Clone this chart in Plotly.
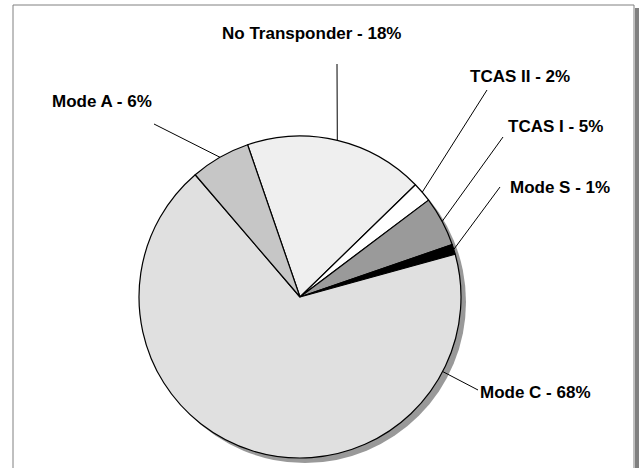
import math
import plotly.graph_objects as go

# ---- data ----
categories = ["No Transponder", "TCAS II", "TCAS I", "Mode S", "Mode C", "Mode A"]
values = [18, 2, 5, 1, 68, 6]
colors = ["#efefef", "#ffffff", "#9a9a9a", "#000000", "#e0e0e0", "#c6c6c6"]

# ---- layout (pixels) ----
W, H = 639, 468
CX, CY, R = 300, 297, 161
ROT = -19  # start angle of first slice, degrees clockwise from 12 o'clock
SHADOW = 5

# label text centres and leader-line anchor points (pixels)
label_pos = {
    "No Transponder": ((311, 34), (337, 64)),
    "TCAS II": ((520, 77), (487, 90)),
    "TCAS I": ((555, 127), (503, 137)),
    "Mode S": ((560, 187), (500, 187)),
    "Mode C": ((535, 392), (478, 390)),
    "Mode A": ((102, 101), (154, 124)),
}

def px(x):
    return x / W

def py(y):
    return 1 - y / H

fig = go.Figure()

# shadow pie
fig.add_trace(go.Pie(
    values=[1], labels=["shadow"], sort=False,
    marker=dict(colors=["#999999"], line=dict(width=0)),
    textinfo="none", hoverinfo="skip", showlegend=False,
    domain=dict(x=[px(CX - R + SHADOW), px(CX + R + SHADOW)],
                y=[py(CY + R + SHADOW), py(CY - R + SHADOW)]),
))

fig.add_trace(go.Pie(
    values=values, labels=categories, sort=False, direction="clockwise",
    rotation=ROT,
    marker=dict(colors=colors, line=dict(color="#000000", width=1.2)),
    textinfo="none", hoverinfo="skip", showlegend=False,
    domain=dict(x=[px(CX - R), px(CX + R)], y=[py(CY + R), py(CY - R)]),
))

shapes = []
annotations = []
total = sum(values)
cum = 0.0
for cat, v in zip(categories, values):
    start = ROT + 360 * cum / total
    span = 360 * v / total
    cum += v
    (tx, ty), (ax, ay) = label_pos[cat]
    if span > 180:
        # big slice: leader points straight at the label
        ang = math.atan2(ax - CX, -(ay - CY))
    else:
        ang = math.radians(start + span / 2)
    tipx = CX + R * math.sin(ang)
    tipy = CY - R * math.cos(ang)
    shapes.append(dict(type="line", xref="paper", yref="paper",
                       x0=px(tipx), y0=py(tipy), x1=px(ax), y1=py(ay),
                       line=dict(color="#000000", width=1)))
    annotations.append(dict(x=px(tx), y=py(ty), xref="paper", yref="paper",
                            text=f"<b>{cat} - {v}%</b>", showarrow=False,
                            xanchor="center", yanchor="middle",
                            font=dict(family="Liberation Sans, Arial", size=17,
                                      color="#000000")))

# chart frame with shadow on the right
shapes.append(dict(type="rect", xref="paper", yref="paper",
                   x0=px(635), x1=px(639), y0=py(470), y1=py(8),
                   fillcolor="#808080", line=dict(width=0), layer="below"))
shapes.append(dict(type="rect", xref="paper", yref="paper",
                   x0=px(13), x1=px(634), y0=py(475), y1=py(5),
                   fillcolor="rgba(0,0,0,0)", line=dict(color="#808080", width=1),
                   layer="below"))

fig.update_layout(
    width=W, height=H,
    margin=dict(l=0, r=0, t=0, b=0),
    paper_bgcolor="#ffffff", plot_bgcolor="#ffffff",
    shapes=shapes, annotations=annotations,
    showlegend=False,
)

fig.write_html(
    "out.html",
    config={"displayModeBar": False},
    post_script="document.body.style.margin='0';document.body.style.overflow='hidden';",
)
